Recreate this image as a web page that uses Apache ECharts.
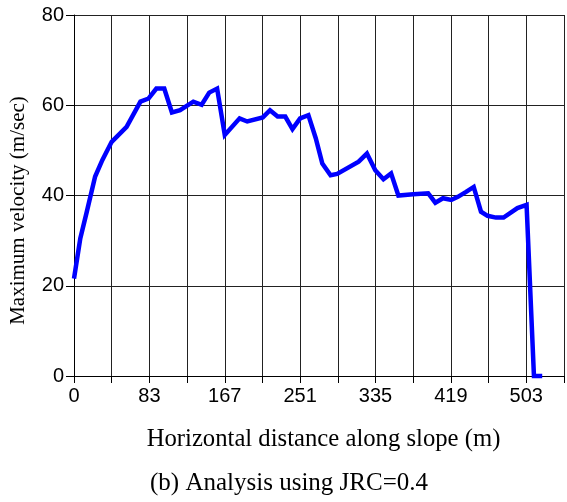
<!DOCTYPE html>
<html>
<head>
<meta charset="utf-8">
<script src="https://cdn.jsdelivr.net/npm/echarts@6/dist/echarts.min.js"></script>
<style>
  html, body { margin: 0; padding: 0; background: #fff; }
  #chart { width: 567px; height: 502px; }
</style>
</head>
<body>
<div id="chart"></div>
<script>
// distance along slope (m)
const distance = [0, 7, 14, 23.5, 31.6, 41.9, 58.5, 73.9, 83, 91.6, 100.4, 108.9, 118, 132.7, 142, 150.4,
  159.2, 167.7, 184.2, 192.7, 210, 218, 226.5, 235, 243, 251.5, 260.7, 268.9, 276.2, 285.4, 292.7,
  316.6, 325.8, 335.1, 344.2, 352.7, 360.8, 377.3, 393.9, 401.9, 410.4, 419.6, 427, 436.1, 444.6,
  452.7, 460, 469.3, 477.8, 493.2, 503.4, 511.6, 520.8];
// maximum velocity (m/sec)
const velocity = [21.6, 30.5, 36.2, 44.2, 47.9, 51.9, 55.2, 60.8, 61.5, 63.7, 63.7, 58.4, 58.9, 60.8, 60.1, 62.8,
  63.7, 53.4, 57.1, 56.4, 57.3, 58.9, 57.5, 57.5, 54.7, 57.1, 57.8, 52.7, 47.1, 44.5, 44.8,
  47.5, 49.3, 45.6, 43.6, 44.9, 40.0, 40.3, 40.5, 38.4, 39.4, 39.0, 39.7, 40.8, 41.9,
  36.4, 35.5, 35.1, 35.1, 37.2, 37.9, 0, 0];
// x tick labels (every second grid line)
const xTickLabels = ['0', '83', '167', '251', '335', '419', '503'];
const xStep = 41.925;

const chart = echarts.init(document.getElementById('chart'));

const axisFont = { fontFamily: '"Liberation Sans", Arial, sans-serif', fontSize: 20, color: '#000' };
const serif = '"Liberation Serif", "Times New Roman", serif';

chart.setOption({
  animation: false,
  title: {
    text: '(b) Analysis using JRC=0.4',
    left: 145,
    top: 466,
    textStyle: { fontFamily: serif, fontSize: 25, fontWeight: 'normal', color: '#000' }
  },
  grid: { left: 73, top: 15, width: 493, height: 361 },
  xAxis: {
    type: 'value',
    min: 0,
    max: xStep * 13,
    interval: xStep,
    name: 'Horizontal distance along slope (m)',
    nameLocation: 'middle',
    nameGap: 51,
    nameTextStyle: { fontFamily: serif, fontSize: 24.7, color: '#000', padding: [0, 0, 0, 9] },
    axisLine: { show: true, lineStyle: { color: '#000', width: 1 } },
    axisTick: { show: true, length: 7, lineStyle: { color: '#000' } },
    axisLabel: {
      ...axisFont,
      margin: 10,
      showMaxLabel: true,
      formatter(v) {
        const i = Math.round(v / xStep);
        return i % 2 === 0 && xTickLabels[i / 2] !== undefined ? xTickLabels[i / 2] : '';
      }
    },
    splitLine: { show: true, lineStyle: { color: '#222', width: 1 } }
  },
  yAxis: {
    type: 'value',
    min: 0,
    max: 80,
    interval: 20,
    name: 'Maximum velocity (m/sec)',
    nameLocation: 'middle',
    nameGap: 45,
    nameTextStyle: { fontFamily: serif, fontSize: 21, color: '#000', padding: [0, 30, 0, 0] },
    axisLine: { show: true, lineStyle: { color: '#000', width: 1 } },
    axisTick: { show: true, length: 8, lineStyle: { color: '#000' } },
    axisLabel: { ...axisFont, margin: 10 },
    splitLine: { show: true, lineStyle: { color: '#222', width: 1 } }
  },
  series: [{
    type: 'line',
    data: distance.map((d, i) => [d, velocity[i]]),
    showSymbol: false,
    lineStyle: { color: '#0000ff', width: 4.5, join: 'miter' },
    clip: false
  }]
});
</script>
</body>
</html>
